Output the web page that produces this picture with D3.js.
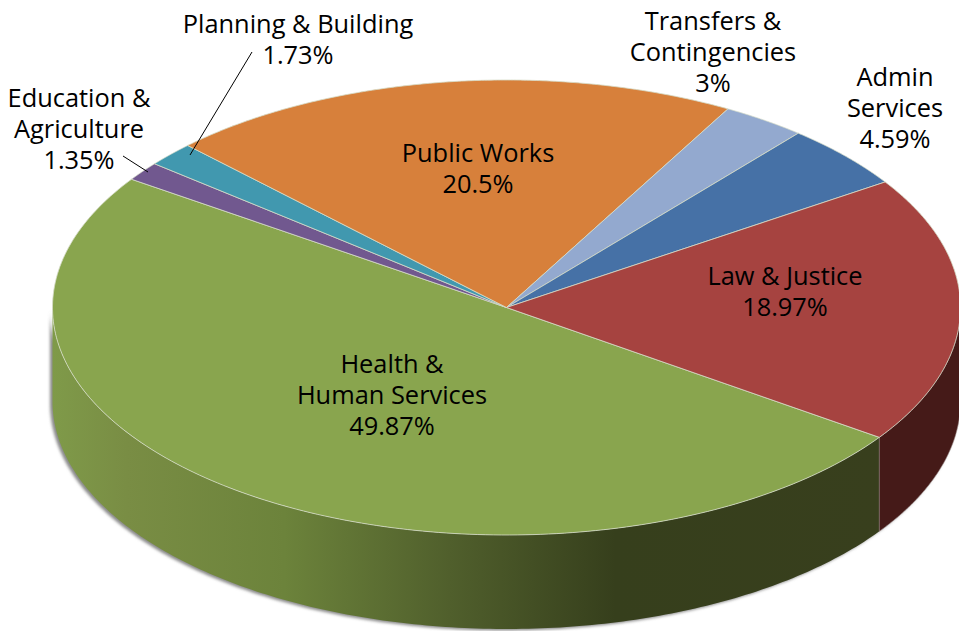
<!DOCTYPE html>
<html>
<head>
<meta charset="utf-8">
<script src="https://cdn.jsdelivr.net/npm/d3@7"></script>
<style>
html,body{margin:0;padding:0;background:#fff;overflow:hidden}
svg{display:block}
text{font-family:"Open Sans",sans-serif;font-size:25.4px;fill:#000;text-anchor:middle}
</style>
</head>
<body>
<svg id="chart" width="959" height="631"></svg>
<script>
const categories = ["Health & Human Services","Education & Agriculture","Planning & Building","Public Works","Transfers & Contingencies","Admin Services","Law & Justice"];
const shares = [49.87,1.35,1.73,20.5,3,4.59,18.97];
const shareLabels = ["49.87%","1.35%","1.73%","20.5%","3%","4.59%","18.97%"];
const labelLines = [["Health &","Human Services"],["Education &","Agriculture"],["Planning & Building"],["Public Works"],["Transfers &","Contingencies"],["Admin","Services"],["Law & Justice"]];

// Styles and layout
const topColors = ["#89a54e","#71588f","#4198af","#d7803b","#93a9cf","#4671a6","#a64340"];
const cx = 506.5, cy = 307.5, rx = 454, ry = 227.5, depth = 94;
const labelAnchors = [[392,373],[79,107],[298,33],[478,162],[713,30],[895,86],[785,285]];
const lineGap = 31;
const leaders = [[[252,52],[190,155]],[[123,156],[148,172]]];
const startDeg = 124.8;
const wallStops = [[0,"#7f9a49"],[0.09,"#798d44"],[0.28,"#6c833b"],[0.48,"#505f2c"],[0.68,"#363f1c"],[1,"#383f1d"]];
const wallDark = "#451a18";

const svg = d3.select("#chart");
const defs = svg.append("defs");
const x = d3.scaleLinear().domain([-1,1]).range([cx-rx,cx+rx]);
const y = d3.scaleLinear().domain([-1,1]).range([cy-ry,cy+ry]);

const grad = defs.append("linearGradient").attr("id","wallGrad")
  .attr("gradientUnits","userSpaceOnUse").attr("x1",x(-1)).attr("x2",880).attr("y1",0).attr("y2",0);
grad.selectAll("stop").data(wallStops).join("stop")
  .attr("offset",d=>d[0]).attr("stop-color",d=>d[1]);
defs.append("filter").attr("id","soft").attr("x","-5%").attr("y","-5%").attr("width","110%").attr("height","110%")
  .append("feGaussianBlur").attr("stdDeviation",1.6);

const pie = d3.pie().sort(null).value(d=>d)
  .startAngle(startDeg*Math.PI/180).endAngle((startDeg+360)*Math.PI/180);
const arcs = pie(shares);
const samples = (a,b)=>d3.range(0,181).map(k=>a+(b-a)*k/180);

// Side walls: only the part of each slice on the front half
const wallArea = d3.area()
  .x(a=>x(Math.sin(a)))
  .y0(a=>y(-Math.cos(a)))
  .y1(a=>y(-Math.cos(a))+depth);
function visibleSpan(d){
  const spans=[[Math.PI/2,3*Math.PI/2],[5*Math.PI/2,7*Math.PI/2]];
  for(const [lo,hi] of spans){
    const a=Math.max(d.startAngle,lo), b=Math.min(d.endAngle,hi);
    if(b>a) return [a,b];
  }
  return null;
}
const walls = arcs.map((d,i)=>({d,i,span:visibleSpan(d)})).filter(w=>w.span);
const wallPath = w=>wallArea(samples(w.span[0],w.span[1]));

svg.append("g").attr("filter","url(#soft)").attr("transform","translate(-2.5,1.5)")
  .selectAll("path").data(walls).join("path").attr("d",wallPath).attr("fill","#8a8a8a");
svg.append("g").selectAll("path").data(walls).join("path")
  .attr("d",wallPath)
  .attr("fill",w=>w.i===0?"url(#wallGrad)":wallDark)
  .attr("stroke",w=>w.i===0?"none":"#9a8a88").attr("stroke-width",0.6);

// Top surface, sampled through the scales so the ellipse stays exact
const line = d3.line().x(p=>x(p[0])).y(p=>y(p[1]));
const slicePath = d=>line([[0,0]].concat(samples(d.startAngle,d.endAngle).map(a=>[Math.sin(a),-Math.cos(a)])))+"Z";
svg.append("g").selectAll("path").data(arcs).join("path")
  .attr("d",slicePath)
  .attr("fill",(d,i)=>topColors[i])
  .attr("stroke","#d5dcc8").attr("stroke-width",0.8);

// Leader lines
svg.append("g").selectAll("line").data(leaders).join("line")
  .attr("x1",d=>d[0][0]).attr("y1",d=>d[0][1]).attr("x2",d=>d[1][0]).attr("y2",d=>d[1][1])
  .attr("stroke","#000").attr("stroke-width",1);

// Labels
const lg = svg.append("g");
categories.forEach((c,i)=>{
  const lines = labelLines[i].concat(shareLabels[i]);
  const t = lg.append("text");
  t.selectAll("tspan").data(lines).join("tspan")
    .attr("x",labelAnchors[i][0])
    .attr("y",(l,k)=>labelAnchors[i][1]+k*lineGap)
    .text(l=>l);
});
</script>
</body>
</html>
